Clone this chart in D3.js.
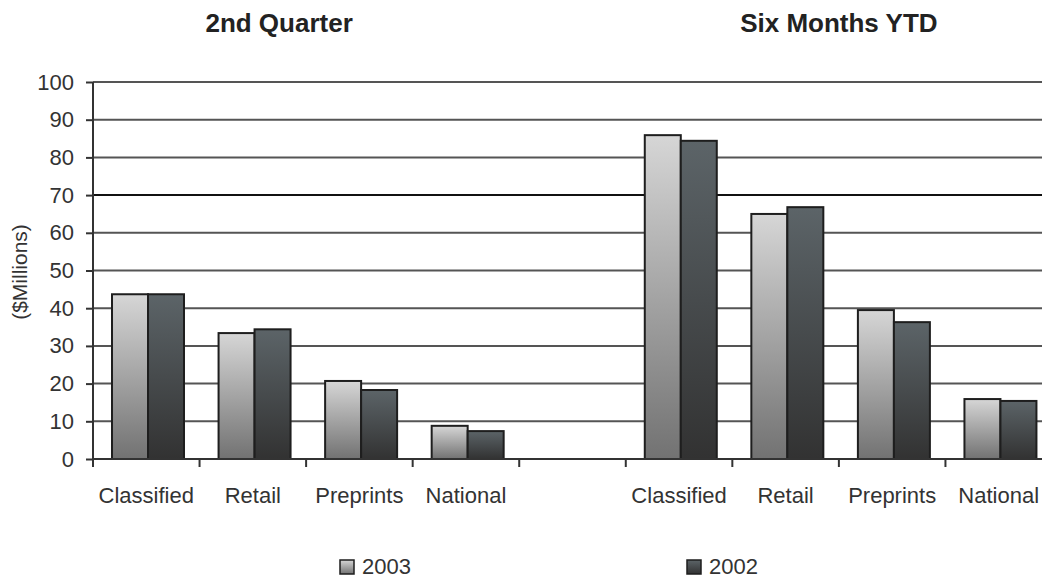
<!DOCTYPE html>
<html>
<head>
<meta charset="utf-8">
<script src="https://cdn.jsdelivr.net/npm/d3@7"></script>
<style>
  html, body { margin: 0; padding: 0; background: #fff; overflow: hidden; }
  svg { display: block; font-family: "Liberation Sans", Arial, sans-serif; }
</style>
</head>
<body>
<svg id="chart"></svg>
<script>
// Chart data
const categories = ["Classified", "Retail", "Preprints", "National"];
const panels = ["2nd Quarter", "Six Months YTD"];
const seriesNames = ["2003", "2002"];
const quarter2003 = [43.7, 33.4, 20.7, 8.8];
const quarter2002 = [43.7, 34.4, 18.3, 7.4];
const ytd2003 = [85.9, 65.0, 39.5, 15.9];
const ytd2002 = [84.4, 66.8, 36.3, 15.4];
const yTicks = [0, 10, 20, 30, 40, 50, 60, 70, 80, 90, 100];

const W = 1042, H = 579;
const margin = { left: 93, right: -10, top: 82, bottom: 120 };
const plotH = H - margin.top - margin.bottom;

const svg = d3.select("#chart").attr("width", W).attr("height", H);

// slots: 4 categories, an empty gap, then 4 categories again
const slots = [
  ...categories.map(c => "q|" + c),
  "gap",
  ...categories.map(c => "y|" + c)
];
const x = d3.scaleBand().domain(slots).range([margin.left, W - margin.right]).padding(0);
const inner = d3.scaleBand().domain(seriesNames).range([0, x.bandwidth()])
  .paddingOuter(0.48).paddingInner(0).align(0.55);
const y = d3.scaleLinear().domain([0, 100]).range([margin.top + plotH, margin.top]);

// gradients
const defs = svg.append("defs");
const g1 = defs.append("linearGradient").attr("id", "grad2003").attr("x1", 0).attr("x2", 0).attr("y1", 0).attr("y2", 1);
g1.append("stop").attr("offset", "0%").attr("stop-color", "#d6d6d6");
g1.append("stop").attr("offset", "100%").attr("stop-color", "#727272");
const g2 = defs.append("linearGradient").attr("id", "grad2002").attr("x1", 0).attr("x2", 0).attr("y1", 0).attr("y2", 1);
g2.append("stop").attr("offset", "0%").attr("stop-color", "#5c6468");
g2.append("stop").attr("offset", "100%").attr("stop-color", "#323232");
const fills = { "2003": "url(#grad2003)", "2002": "url(#grad2002)" };

// gridlines
svg.append("g")
  .selectAll("line")
  .data(yTicks.filter(d => d > 0))
  .join("line")
  .attr("x1", margin.left).attr("x2", W)
  .attr("y1", d => y(d)).attr("y2", d => y(d))
  .attr("stroke", d => d === 70 ? "#111" : "#555")
  .attr("stroke-width", 2);

// bars
const rows = [];
categories.forEach((c, i) => {
  rows.push({ slot: "q|" + c, series: "2003", value: quarter2003[i] });
  rows.push({ slot: "q|" + c, series: "2002", value: quarter2002[i] });
  rows.push({ slot: "y|" + c, series: "2003", value: ytd2003[i] });
  rows.push({ slot: "y|" + c, series: "2002", value: ytd2002[i] });
});

svg.append("g")
  .selectAll("rect")
  .data(rows)
  .join("rect")
  .attr("x", d => x(d.slot) + inner(d.series))
  .attr("y", d => y(d.value))
  .attr("width", inner.bandwidth())
  .attr("height", d => y(0) - y(d.value))
  .attr("fill", d => fills[d.series])
  .attr("stroke", "#1e1e1e")
  .attr("stroke-width", 2);

// y axis
const yAxis = svg.append("g")
  .attr("transform", `translate(${margin.left},0)`)
  .call(d3.axisLeft(y).tickValues(yTicks).tickSize(7).tickPadding(12));
yAxis.select(".domain").attr("stroke", "#333").attr("stroke-width", 2).attr("d", `M0,${y(100)}V${y(0)}`);
yAxis.selectAll(".tick line").attr("stroke", "#333").attr("stroke-width", 2);
yAxis.selectAll("text").attr("font-size", 22).attr("fill", "#333").attr("font-family", "Liberation Sans, Arial, sans-serif");

// x axis
const xAxis = svg.append("g")
  .attr("transform", `translate(0,${y(0)})`)
  .call(d3.axisBottom(x).tickSize(0).tickPadding(28)
    .tickFormat(d => d === "gap" ? "" : d.split("|")[1]));
xAxis.select(".domain").attr("stroke", "#333").attr("stroke-width", 2).attr("d", `M${margin.left},0H${W}`);
xAxis.selectAll("text").attr("font-size", 22).attr("fill", "#333").attr("font-family", "Liberation Sans, Arial, sans-serif");

// band boundary ticks
svg.append("g")
  .selectAll("line")
  .data(slots)
  .join("line")
  .attr("x1", d => x(d)).attr("x2", d => x(d))
  .attr("y1", y(0)).attr("y2", y(0) + 8)
  .attr("stroke", "#333").attr("stroke-width", 2);

// y axis title
svg.append("text")
  .attr("transform", `translate(27,272) rotate(-90)`)
  .attr("text-anchor", "middle")
  .attr("font-size", 21)
  .attr("fill", "#333")
  .text("($Millions)");

// panel titles
const titleX = [
  (x("q|Classified") + x("q|National") + x.bandwidth()) / 2 - 27,
  (x("y|Classified") + x("y|National") + x.bandwidth()) / 2
];
svg.append("g")
  .selectAll("text")
  .data(panels)
  .join("text")
  .attr("x", (d, i) => titleX[i])
  .attr("y", 32)
  .attr("text-anchor", "middle")
  .attr("font-size", 26)
  .attr("font-weight", "bold")
  .attr("fill", "#222")
  .text(d => d);

// legend
const legendX = [340, 687];
const legend = svg.append("g")
  .selectAll("g")
  .data(seriesNames)
  .join("g")
  .attr("transform", (d, i) => `translate(${legendX[i]},560)`);
legend.append("rect")
  .attr("width", 14).attr("height", 14)
  .attr("fill", d => fills[d])
  .attr("stroke", "#1e1e1e").attr("stroke-width", 1.5);
legend.append("text")
  .attr("x", 22).attr("y", 14)
  .attr("font-size", 22)
  .attr("fill", "#333")
  .text(d => d);
</script>
</body>
</html>
